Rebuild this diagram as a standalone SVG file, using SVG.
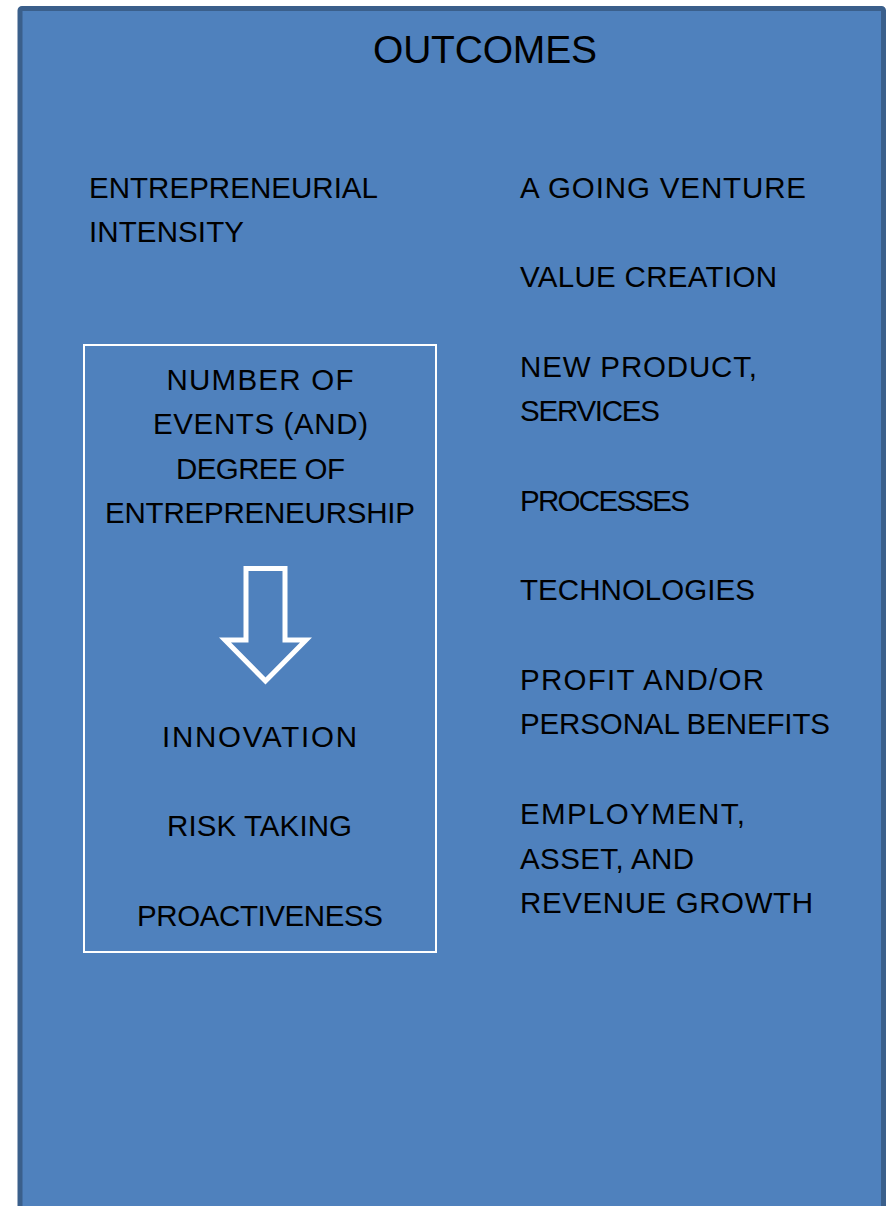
<svg xmlns="http://www.w3.org/2000/svg" width="889" height="1206" viewBox="0 0 889 1206">
  <style>
    .t { font-family: "Liberation Sans", Arial, sans-serif; font-size: 29.5px; fill: #000; }
    .c { text-anchor: middle; }
    .title { font-family: "Liberation Sans", Arial, sans-serif; font-size: 39px; fill: #000; text-anchor: middle; }
  </style>
  <rect width="889" height="1206" fill="#ffffff"/>

  <!-- panel -->
  <g id="panel">
    <rect x="20" y="8.5" width="863.5" height="1260" rx="2" fill="#4F81BD" stroke="#3A5F8B" stroke-width="5"/>
    <text class="title" x="485" y="62.5" textLength="224">OUTCOMES</text>
  </g>

  <!-- intensity heading -->
  <g id="intensity">
    <text class="t" x="89" y="197.5" textLength="289">ENTREPRENEURIAL</text>
    <text class="t" x="89" y="242" textLength="155">INTENSITY</text>
  </g>

  <!-- boxed dimensions -->
  <g id="dimensions">
    <rect x="84" y="345" width="352" height="607" fill="none" stroke="#ffffff" stroke-width="2"/>
    <text class="t c" x="260" y="389.5" textLength="187">NUMBER OF</text>
    <text class="t c" x="260.5" y="434" textLength="215">EVENTS (AND)</text>
    <text class="t c" x="260.5" y="478.5" textLength="169">DEGREE OF</text>
    <text class="t c" x="260" y="523" textLength="310">ENTREPRENEURSHIP</text>
    <text class="t c" x="259.5" y="746.5" textLength="195">INNOVATION</text>
    <text class="t c" x="259.5" y="836" textLength="185">RISK TAKING</text>
    <text class="t c" x="260" y="925.5" textLength="246">PROACTIVENESS</text>
  </g>

  <!-- down arrow -->
  <g id="connectors">
    <polygon points="246,568.5 285,568.5 285,640 306,640 265.5,681 225,640 246,640" fill="none" stroke="#ffffff" stroke-width="5" stroke-linejoin="miter"/>
  </g>

  <!-- outcomes list -->
  <g id="outcomes">
    <text class="t" x="520" y="197.5" textLength="286">A GOING VENTURE</text>
    <text class="t" x="520" y="287" textLength="257">VALUE CREATION</text>
    <text class="t" x="520" y="376.5" textLength="237">NEW PRODUCT,</text>
    <text class="t" x="520" y="421" textLength="140">SERVICES</text>
    <text class="t" x="520" y="510.5" textLength="170">PROCESSES</text>
    <text class="t" x="520" y="600" textLength="235">TECHNOLOGIES</text>
    <text class="t" x="520" y="689.5" textLength="244">PROFIT AND/OR</text>
    <text class="t" x="520" y="734" textLength="310">PERSONAL BENEFITS</text>
    <text class="t" x="520" y="824" textLength="225">EMPLOYMENT,</text>
    <text class="t" x="520" y="868.5" textLength="174">ASSET, AND</text>
    <text class="t" x="520" y="913" textLength="293">REVENUE GROWTH</text>
  </g>
</svg>
